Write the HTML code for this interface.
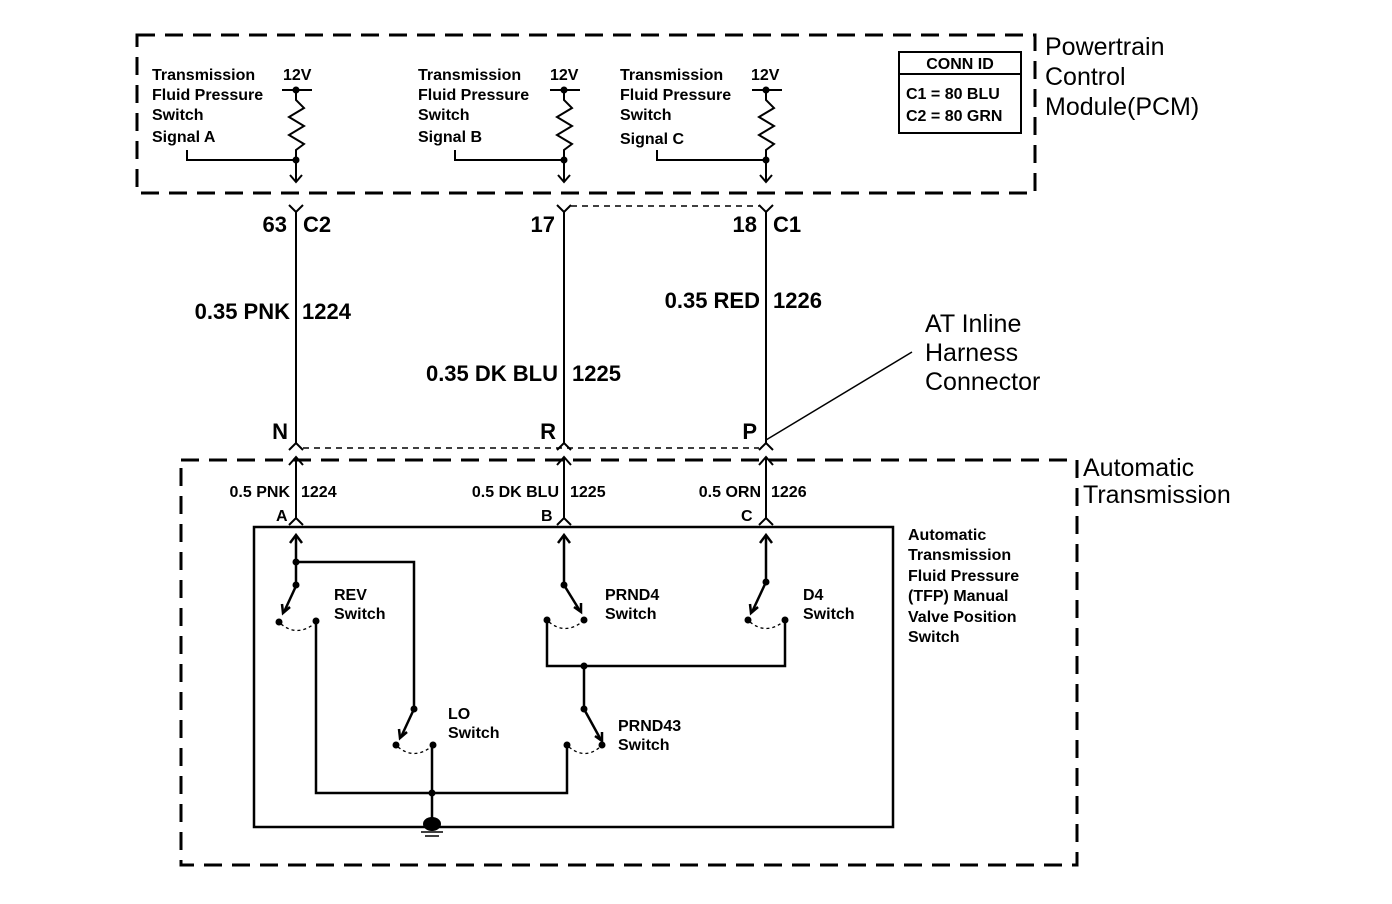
<!DOCTYPE html>
<html><head><style>
html,body{margin:0;padding:0;background:#fff;}
svg{display:block;}
text{font-family:"Liberation Sans",Arial,sans-serif;fill:#000;}
</style></head><body>
<svg width="1392" height="904" viewBox="0 0 1392 904" xmlns="http://www.w3.org/2000/svg">
<g fill="none" stroke="#000">
<rect x="137" y="35" width="898" height="158" stroke-width="3" stroke-dasharray="18,10"/>
<rect x="181" y="460" width="896" height="405" stroke-width="3" stroke-dasharray="18,10"/>
<rect x="899" y="52" width="122" height="81" stroke-width="2"/>
<line x1="899" y1="74" x2="1021" y2="74" stroke-width="2"/>
<rect x="254" y="527" width="639" height="300" stroke-width="2.5"/>
</g>

<g fill="none" stroke="#000" stroke-width="2">
<g id="r1">
<line x1="282" y1="90" x2="312" y2="90"/>
<polyline points="296,90 296,100 304,108 289,117 304,126 289,135 304,144 296,150 296,182"/>
<polyline points="187,150 187,160 296,160"/>
<polyline points="290,175 296,182 302,175"/>
</g>
<g transform="translate(268,0)"><use href="#r1"/></g>
<g transform="translate(470,0)"><use href="#r1"/></g>
</g>
<g fill="#000"><circle cx="296" cy="90" r="3.5"/><circle cx="296" cy="160" r="3.5"/>
<circle cx="564" cy="90" r="3.5"/><circle cx="564" cy="160" r="3.5"/>
<circle cx="766" cy="90" r="3.5"/><circle cx="766" cy="160" r="3.5"/></g>

<g fill="none" stroke="#000" stroke-width="2">
<line x1="296" y1="212" x2="296" y2="443"/>
<line x1="564" y1="212" x2="564" y2="443"/>
<line x1="766" y1="212" x2="766" y2="443"/>
<polyline points="289,205 296,212 303,205"/>
<polyline points="557,205 564,212 571,205"/>
<polyline points="759,205 766,212 773,205"/>
<polyline points="289,450 296,443 303,450"/>
<polyline points="557,450 564,443 571,450"/>
<polyline points="759,450 766,443 773,450"/>
<line x1="766" y1="440" x2="912" y2="352" stroke-width="1.5"/>
<line x1="296" y1="457" x2="296" y2="518"/>
<line x1="564" y1="457" x2="564" y2="518"/>
<line x1="766" y1="457" x2="766" y2="518"/>
<polyline points="289,465 296,457 303,465"/>
<polyline points="557,465 564,457 571,465"/>
<polyline points="759,465 766,457 773,465"/>
<polyline points="289,525 296,518 303,525"/>
<polyline points="557,525 564,518 571,525"/>
<polyline points="759,525 766,518 773,525"/>
</g>
<g fill="none" stroke="#000" stroke-width="1.5" stroke-dasharray="6,5">
<line x1="571" y1="206" x2="759" y2="206"/>
<line x1="303" y1="448" x2="759" y2="448"/>
</g>

<g fill="none" stroke="#000" stroke-width="2.5">
<polyline points="296,535 296,582"/>
<polyline points="290,543 296,535 302,543"/>
<polyline points="296,562 414,562 414,709"/>
<line x1="296" y1="586" x2="284" y2="612"/>
<polyline points="282,604 283,613 290,607"/>
<polyline points="316,621 316,793 567,793 567,745"/>
<line x1="432" y1="745" x2="432" y2="822"/>
<line x1="414" y1="709" x2="401" y2="737"/>
<polyline points="399,729 400,738 407,732"/>
<line x1="564" y1="535" x2="564" y2="585"/>
<polyline points="558,543 564,535 570,543"/>
<line x1="564" y1="585" x2="580" y2="611"/>
<polyline points="574,607 581,612 581,603"/>
<polyline points="547,620 547,666 785,666 785,620"/>
<line x1="584" y1="666" x2="584" y2="709"/>
<line x1="584" y1="709" x2="601" y2="740"/>
<polyline points="595,736 602,741 602,732"/>
<line x1="766" y1="535" x2="766" y2="582"/>
<polyline points="760,543 766,535 772,543"/>
<line x1="766" y1="582" x2="752" y2="612"/>
<polyline points="750,604 751,613 758,607"/>
</g>
<g fill="none" stroke="#000" stroke-width="1.3" stroke-dasharray="3,3">
<path d="M281,624 Q297,637 314,624"/>
<path d="M398,747 Q414,760 431,747"/>
<path d="M549,622 Q565,635 582,622"/>
<path d="M750,622 Q766,635 783,622"/>
<path d="M569,747 Q585,760 600,747"/>
</g>
<g fill="#000">
<circle cx="296" cy="562" r="3.5"/><circle cx="296" cy="585" r="3.5"/>
<circle cx="279" cy="622" r="3.5"/><circle cx="316" cy="621" r="3.5"/>
<circle cx="414" cy="709" r="3.5"/><circle cx="396" cy="745" r="3.5"/><circle cx="433" cy="745" r="3.5"/>
<circle cx="432" cy="793" r="3.5"/>
<circle cx="564" cy="585" r="3.5"/><circle cx="547" cy="620" r="3.5"/><circle cx="584" cy="620" r="3.5"/>
<circle cx="584" cy="666" r="3.5"/><circle cx="584" cy="709" r="3.5"/>
<circle cx="567" cy="745" r="3.5"/><circle cx="602" cy="745" r="3.5"/>
<circle cx="766" cy="582" r="3.5"/><circle cx="748" cy="620" r="3.5"/><circle cx="785" cy="620" r="3.5"/>
<ellipse cx="432" cy="824" rx="9" ry="7"/>
</g>
<g stroke="#000" stroke-width="1.5"><line x1="421" y1="832" x2="443" y2="832"/><line x1="425" y1="836" x2="439" y2="836"/></g>

<g font-size="16" font-weight="bold">
<text x="152" y="80">Transmission</text><text x="152" y="100">Fluid Pressure</text><text x="152" y="120">Switch</text><text x="152" y="142">Signal A</text>
<text x="418" y="80">Transmission</text><text x="418" y="100">Fluid Pressure</text><text x="418" y="120">Switch</text><text x="418" y="142">Signal B</text>
<text x="620" y="80">Transmission</text><text x="620" y="100">Fluid Pressure</text><text x="620" y="120">Switch</text><text x="620" y="144">Signal C</text>
<text x="283" y="80">12V</text><text x="550" y="80">12V</text><text x="751" y="80">12V</text>
<text x="960" y="69" text-anchor="middle">CONN ID</text>
<text x="906" y="99">C1 = 80 BLU</text><text x="906" y="121">C2 = 80 GRN</text>
<text x="290" y="497" text-anchor="end">0.5 PNK</text><text x="301" y="497">1224</text>
<text x="559" y="497" text-anchor="end">0.5 DK BLU</text><text x="570" y="497">1225</text>
<text x="761" y="497" text-anchor="end">0.5 ORN</text><text x="771" y="497">1226</text>
<text x="276" y="521">A</text><text x="541" y="521">B</text><text x="741" y="521">C</text>
<text x="334" y="600">REV</text><text x="334" y="619">Switch</text>
<text x="448" y="719">LO</text><text x="448" y="738">Switch</text>
<text x="605" y="600">PRND4</text><text x="605" y="619">Switch</text>
<text x="803" y="600">D4</text><text x="803" y="619">Switch</text>
<text x="618" y="731">PRND43</text><text x="618" y="750">Switch</text>
<text x="908" y="540">Automatic</text><text x="908" y="560">Transmission</text><text x="908" y="581">Fluid Pressure</text><text x="908" y="601">(TFP) Manual</text><text x="908" y="622">Valve Position</text><text x="908" y="642">Switch</text>
</g>
<g font-size="22" font-weight="bold">
<text x="287" y="232" text-anchor="end">63</text><text x="303" y="232">C2</text>
<text x="555" y="232" text-anchor="end">17</text>
<text x="757" y="232" text-anchor="end">18</text><text x="773" y="232">C1</text>
<text x="290" y="319" text-anchor="end">0.35 PNK</text><text x="302" y="319">1224</text>
<text x="558" y="381" text-anchor="end">0.35 DK BLU</text><text x="572" y="381">1225</text>
<text x="760" y="308" text-anchor="end">0.35 RED</text><text x="773" y="308">1226</text>
<text x="288" y="439" text-anchor="end">N</text><text x="556" y="439" text-anchor="end">R</text><text x="757" y="439" text-anchor="end">P</text>
</g>
<g font-size="25">
<text x="925" y="332">AT Inline</text><text x="925" y="361">Harness</text><text x="925" y="390">Connector</text>
<text x="1045" y="55">Powertrain</text><text x="1045" y="85">Control</text><text x="1045" y="115">Module(PCM)</text>
<text x="1083" y="476">Automatic</text><text x="1083" y="503">Transmission</text>
</g>
</svg>
</body></html>
